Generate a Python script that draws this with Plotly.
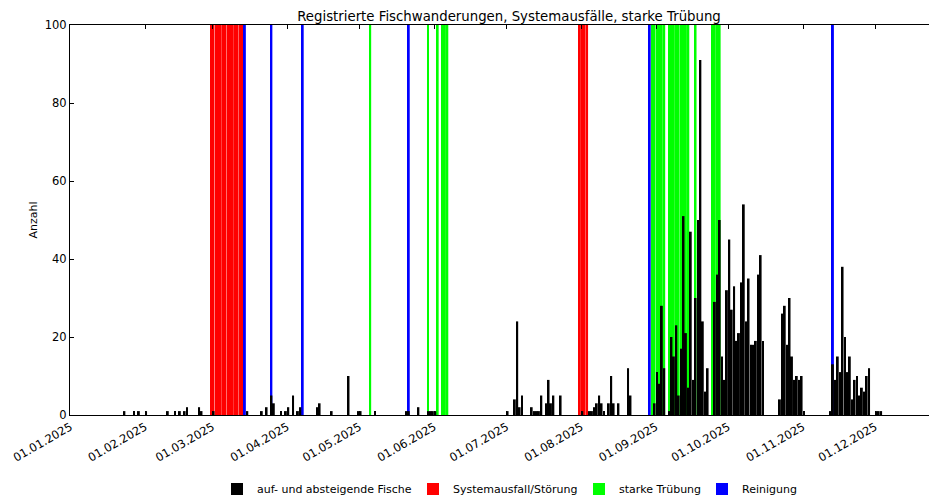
import plotly.graph_objects as go

# ---------------- data ----------------
fish_dates = [
    "2025-01-23", "2025-01-27", "2025-01-29", "2025-02-01", "2025-02-10", "2025-02-13",
    "2025-02-15", "2025-02-17", "2025-02-18", "2025-02-23", "2025-02-24", "2025-03-01",
    "2025-03-15", "2025-03-21", "2025-03-23", "2025-03-25", "2025-03-26", "2025-03-29",
    "2025-03-31", "2025-04-01", "2025-04-03", "2025-04-05", "2025-04-06", "2025-04-13",
    "2025-04-14", "2025-04-19", "2025-04-26", "2025-04-30", "2025-05-01", "2025-05-07",
    "2025-05-20", "2025-05-21", "2025-05-25", "2025-05-29", "2025-05-30", "2025-05-31",
    "2025-06-01",
    "2025-07-01", "2025-07-04", "2025-07-05", "2025-07-06", "2025-07-07", "2025-07-11",
    "2025-07-12", "2025-07-13", "2025-07-14", "2025-07-15", "2025-07-17", "2025-07-18",
    "2025-07-19", "2025-07-20", "2025-07-23",
    "2025-08-01", "2025-08-04", "2025-08-05", "2025-08-06", "2025-08-07", "2025-08-08",
    "2025-08-09", "2025-08-10", "2025-08-12", "2025-08-13", "2025-08-14", "2025-08-16",
    "2025-08-20", "2025-08-21",
    "2025-08-31", "2025-09-01", "2025-09-02", "2025-09-03", "2025-09-04", "2025-09-06",
    "2025-09-07", "2025-09-08", "2025-09-09", "2025-09-10", "2025-09-11", "2025-09-12",
    "2025-09-13", "2025-09-14", "2025-09-15", "2025-09-16", "2025-09-17", "2025-09-18",
    "2025-09-19", "2025-09-20", "2025-09-21", "2025-09-22",
    "2025-09-25", "2025-09-26", "2025-09-27", "2025-09-28", "2025-09-29", "2025-09-30",
    "2025-10-01", "2025-10-02", "2025-10-03", "2025-10-04", "2025-10-05", "2025-10-06",
    "2025-10-07", "2025-10-08", "2025-10-09", "2025-10-10", "2025-10-11", "2025-10-12",
    "2025-10-13", "2025-10-14", "2025-10-15",
    "2025-10-22", "2025-10-23", "2025-10-24", "2025-10-25", "2025-10-26", "2025-10-27",
    "2025-10-28", "2025-10-29", "2025-10-30", "2025-10-31", "2025-11-01",
    "2025-11-12", "2025-11-13", "2025-11-14", "2025-11-15", "2025-11-16", "2025-11-17",
    "2025-11-18", "2025-11-19", "2025-11-20", "2025-11-21", "2025-11-22", "2025-11-23",
    "2025-11-24", "2025-11-25", "2025-11-26", "2025-11-27", "2025-11-28",
    "2025-12-01", "2025-12-02", "2025-12-03",
]
fish_counts = [
    1, 1, 1, 1, 1, 1,
    1, 1, 2, 2, 1, 1,
    1, 1, 2, 5, 3, 1,
    1, 2, 5, 1, 2, 2,
    3, 1, 10, 1, 1, 1,
    1, 1, 2, 1, 1, 1,
    1,
    1, 4, 24, 2, 5, 2,
    1, 1, 1, 5, 3, 9,
    3, 5, 5,
    1, 1, 1, 2, 3, 5,
    3, 1, 3, 10, 3, 3,
    12, 5,
    3, 11, 8, 28, 12, 1,
    20, 15, 23, 5, 17, 51,
    21, 7, 47, 9, 30, 50,
    91, 24, 6, 12,
    29, 36, 50, 15, 9, 32,
    45, 27, 33, 19, 21, 34,
    54, 24, 35, 18, 18, 19,
    36, 41, 19,
    4, 26, 28, 18, 30, 15,
    9, 10, 9, 10, 1,
    1, 13, 9, 15, 11, 38,
    20, 11, 15, 4, 9, 10,
    5, 7, 6, 10, 12,
    1, 1, 1,
]

outage_dates = [
    "2025-02-28", "2025-03-01", "2025-03-02", "2025-03-03", "2025-03-04", "2025-03-05",
    "2025-03-06", "2025-03-07", "2025-03-08", "2025-03-09", "2025-03-10", "2025-03-11",
    "2025-03-12", "2025-03-13",
    "2025-07-31", "2025-08-01", "2025-08-02", "2025-08-03",
]
turbidity_dates = [
    "2025-05-05", "2025-05-29", "2025-06-02", "2025-06-04", "2025-06-05", "2025-06-06",
    "2025-08-30", "2025-08-31", "2025-09-01", "2025-09-02", "2025-09-03", "2025-09-04",
    "2025-09-06", "2025-09-07", "2025-09-08", "2025-09-09", "2025-09-10", "2025-09-11",
    "2025-09-12", "2025-09-13", "2025-09-14", "2025-09-17",
    "2025-09-24", "2025-09-25", "2025-09-26", "2025-09-27",
]
cleaning_dates = [
    "2025-03-14", "2025-03-25", "2025-04-07", "2025-05-21", "2025-08-29", "2025-11-13",
]
event_level = 100  # events are marked over the full y range

# ---------------- figure ----------------
DAY_MS = 86400000
BAR_W = 0.8 * DAY_MS
FONT = "DejaVu Sans"

# page body adds an 8px offset; margins/size compensate for it
W, H = 929, 493
L, R, T, B = 62, 0, 17, 86
PW, PH = W - L - R, H - T - B

# legend entry text start positions (figure px)
LEG_TEXT_X = [249, 445, 611, 734]
LEG_Y = -(481 - (T + PH)) / PH

fig = go.Figure()

events = [
    ("Systemausfall/Störung", outage_dates, "#FF0000", "legend2"),
    ("starke Trübung", turbidity_dates, "#00FF00", "legend3"),
    ("Reinigung", cleaning_dates, "#0000FF", "legend4"),
]
for name, dates, color, leg in events:
    fig.add_trace(go.Bar(
        x=dates, y=[event_level] * len(dates), name=name,
        marker=dict(color=color, line=dict(width=0)),
        width=BAR_W, offset=0, legend=leg,
        hoverinfo="x+name",
    ))

fig.add_trace(go.Bar(
    x=fish_dates, y=fish_counts, name="auf- und absteigende Fische",
    marker=dict(color="#000000", line=dict(width=0)),
    width=BAR_W, offset=0, legend="legend",
))


def leg(i):
    return dict(
        orientation="h",
        x=(LEG_TEXT_X[i] - 40 - L) / PW, xanchor="left",
        y=LEG_Y, yanchor="middle",
        font=dict(family=FONT, size=11, color="black"),
        bgcolor="rgba(0,0,0,0)", borderwidth=0,
    )


fig.update_layout(
    width=W, height=H,
    margin=dict(l=L, r=R, t=T, b=B, autoexpand=False),
    paper_bgcolor="white", plot_bgcolor="white",
    barmode="overlay",
    font=dict(family=FONT, size=11, color="black"),
    title=dict(
        text="Registrierte Fischwanderungen, Systemausfälle, starke Trübung",
        font=dict(family=FONT, size=13.3, color="black"),
        x=501 / W, xanchor="center", xref="container",
        y=1 - 8.5 / H, yanchor="middle", yref="container",
        automargin=False,
    ),
    showlegend=True,
    legend=leg(0), legend2=leg(1), legend3=leg(2), legend4=leg(3),
)

fig.update_xaxes(
    type="date",
    range=["2024-12-31 20:00", "2025-12-26 14:00"],
    tickformat="%d.%m.%Y",
    dtick="M1", tick0="2025-01-01",
    tickangle=-30,
    ticks="inside", ticklen=4, tickcolor="black",
    showline=True, linecolor="black", linewidth=1,
    mirror="allticks",
    showgrid=False, zeroline=False,
    automargin=False,
    tickfont=dict(family=FONT, size=11.5, color="black"),
)
fig.update_yaxes(
    range=[0, 100], dtick=20,
    ticks="inside", ticklen=4, tickcolor="black",
    showline=True, linecolor="black", linewidth=1,
    showgrid=False, zeroline=False,
    automargin=False,
    tickfont=dict(family=FONT, size=11.5, color="black"),
    title=dict(text="Anzahl", font=dict(family=FONT, size=11, color="black"), standoff=4),
)

fig.write_html("out.html")
